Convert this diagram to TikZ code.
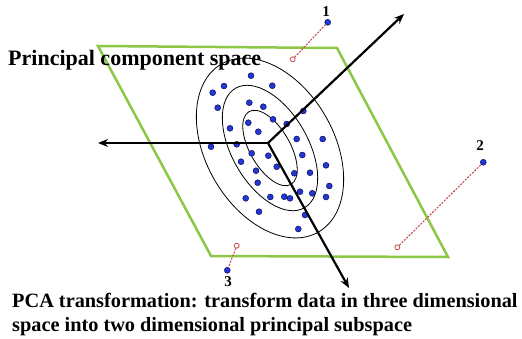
\documentclass[tikz,border=0pt]{standalone}
\usepackage{fontspec}
\setmainfont{Liberation Serif}
\usetikzlibrary{arrows.meta}
\definecolor{pcablue}{RGB}{35,55,210}
\definecolor{pcagreen}{RGB}{140,200,70}
\definecolor{pcared}{RGB}{200,75,75}

\begin{document}
\begin{tikzpicture}
  [x=1pt,y=-1pt,
  dot/.style={circle,draw=blue!30!black,fill=pcablue,thin,inner sep=0pt,minimum size=6pt},
  opendot/.style={circle,draw=pcared,fill=white,thick,inner sep=0pt,minimum size=5pt},
  proj/.style={pcared,line width=1.1pt,dash pattern=on 2pt off 1.3pt},
  axis/.style={-{Stealth[length=10pt,width=8pt]},black,line width=2.2pt},
  contour/.style={black,line width=0.8pt},
  num/.style={font=\bfseries\fontsize{15}{15}\selectfont,inner sep=0pt},
  label/.style={font=\bfseries\fontsize{20.3}{24}\selectfont,inner sep=0pt}]
  \useasboundingbox (0,0) rectangle (522,338);

  % principal plane
  \draw [pcagreen,line width=2.5pt] (98,46) -- (337,48) -- (448,257) -- (211,256) -- cycle;

  % contours
  \coordinate (c) at (270,148);
  \draw [contour,rotate around={30:(c)}] (c) ellipse [x radius=64pt,y radius=97pt];
  \draw [contour,rotate around={30:(c)}] (c) ellipse [x radius=38pt,y radius=69pt];
  \draw [contour,rotate around={30:(c)}] (c) ellipse [x radius=20pt,y radius=42pt];

  % data
  \node[dot] (d1) at (251.0,75.7) {};
  \node[dot] (d2) at (272.3,85.7) {};
  \node[dot] (d3) at (212.7,92.7) {};
  \node[dot] (d4) at (224.0,86.0) {};
  \node[dot] (d5) at (217.7,107.7) {};
  \node[dot] (d6) at (249.3,102.7) {};
  \node[dot] (d7) at (263.3,106.7) {};
  \node[dot] (d8) at (303.3,111.0) {};
  \node[dot] (d9) at (248.3,122.7) {};
  \node[dot] (d10) at (273.0,119.3) {};
  \node[dot] (d11) at (286.7,124.0) {};
  \node[dot] (d12) at (258.3,131.7) {};
  \node[dot] (d13) at (230.0,128.3) {};
  \node[dot] (d14) at (211.0,146.7) {};
  \node[dot] (d15) at (236.7,144.3) {};
  \node[dot] (d16) at (296.7,139.0) {};
  \node[dot] (d17) at (322.7,139.0) {};
  \node[dot] (d18) at (251.7,153.3) {};
  \node[dot] (d19) at (268.3,155.7) {};
  \node[dot] (d20) at (302.3,155.0) {};
  \node[dot] (d21) at (241.0,161.7) {};
  \node[dot] (d22) at (276.7,166.7) {};
  \node[dot] (d23) at (326.0,165.3) {};
  \node[dot] (d24) at (256.0,170.7) {};
  \node[dot] (d25) at (294.3,173.3) {};
  \node[dot] (d26) at (310.0,172.7) {};
  \node[dot] (d27) at (257.7,182.7) {};
  \node[dot] (d28) at (329.3,186.0) {};
  \node[dot] (d29) at (300.0,191.7) {};
  \node[dot] (d30) at (312.3,193.3) {};
  \node[dot] (d31) at (326.0,197.0) {};
  \node[dot] (d32) at (284.3,196.7) {};
  \node[dot] (d33) at (290.0,198.3) {};
  \node[dot] (d34) at (270.3,197.0) {};
  \node[dot] (d35) at (245.7,198.3) {};
  \node[dot] (d36) at (259.0,211.7) {};
  \node[dot] (d37) at (305.0,215.0) {};
  \node[dot] (d38) at (298.3,229.0) {};

  % principal axes
  \coordinate (o) at (268,143);
  \coordinate (pc1) at (404,14);
  \coordinate (pc2) at (98,143);
  \coordinate (pc3) at (349,288);
  \draw [axis] (o) -- (pc1);
  \draw [axis] (o) -- (pc2);
  \draw [axis] (o) -- (pc3);

  % projections
  \node[opendot] (p1) at (292.7,59.3) {};
  \node[opendot] (p2) at (397.3,247.3) {};
  \node[opendot] (p3) at (236.7,245.7) {};
  \node[dot] (x1) at (327.7,22.3) {};
  \node[dot] (x2) at (483.3,162.3) {};
  \node[dot] (x3) at (227.3,270.3) {};
  \draw [proj] (p1) -- (x1);
  \draw [proj] (p2) -- (x2);
  \draw [proj] (p3) -- (x3);
  \node[num] (n1) at (326,12) {1};
  \node[num] (n2) at (480,146) {2};
  \node[num] (n3) at (228,281.5) {3};

  % texts
  \node[label,font=\bfseries\fontsize{22}{24}\selectfont,anchor=west] (title) at (8,60) {Principal component space};
  \node[label,anchor=north west,align=left] (caption) at (12,292.5)
    {PCA transformation: transform data in three dimensional\\space into two dimensional principal subspace};
\end{tikzpicture}
\end{document}
